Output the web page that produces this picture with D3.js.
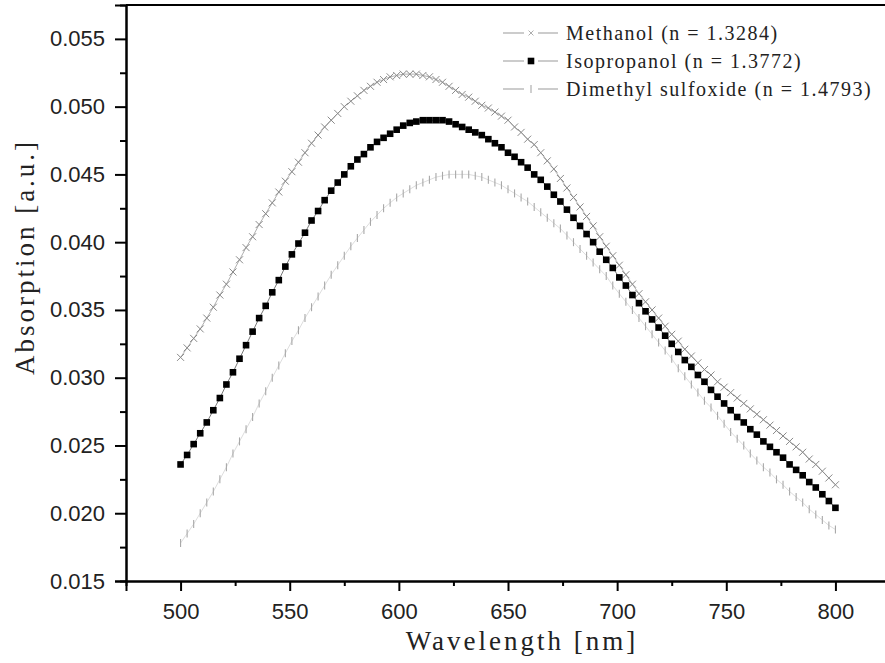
<!DOCTYPE html>
<html>
<head>
<meta charset="utf-8">
<script src="https://cdn.jsdelivr.net/npm/d3@7"></script>
<style>
    body { margin: 0; background: #fff; }
</style>
</head>
<body>
<div id="plot"></div>
<script>
// wavelength grid, one point every 3 nm
const wavelengths = d3.range(500, 801, 3);

const methanol = [
    0.0315, 0.0322, 0.0329, 0.0336, 0.0344, 0.0352, 0.0361, 0.0369, 0.0378, 0.0387,
    0.0396, 0.0404, 0.0413, 0.0421, 0.0429, 0.0437, 0.0445, 0.0452, 0.0459, 0.0466,
    0.0473, 0.0479, 0.0485, 0.0490, 0.0495, 0.0500, 0.0504, 0.0508, 0.0512, 0.0515,
    0.0518, 0.0520, 0.0522, 0.0523, 0.0524, 0.0524, 0.0524, 0.0523, 0.0522, 0.0520,
    0.0518, 0.0515, 0.0512, 0.0509, 0.0507, 0.0504, 0.0501, 0.0499, 0.0496, 0.0493,
    0.0490, 0.0485, 0.0481, 0.0476, 0.0472, 0.0466, 0.0460, 0.0454, 0.0447, 0.0440,
    0.0433, 0.0426, 0.0419, 0.0412, 0.0404, 0.0397, 0.0390, 0.0383, 0.0376, 0.0369,
    0.0362, 0.0356, 0.0350, 0.0344, 0.0338, 0.0332, 0.0327, 0.0321, 0.0316, 0.0311,
    0.0306, 0.0302, 0.0297, 0.0293, 0.0289, 0.0285, 0.0281, 0.0277, 0.0273, 0.0269,
    0.0265, 0.0261, 0.0257, 0.0253, 0.0249, 0.0245, 0.0240, 0.0236, 0.0231, 0.0226,
    0.0221
];

const isopropanol = [
    0.0236, 0.0243, 0.0251, 0.0259, 0.0267, 0.0276, 0.0285, 0.0295, 0.0304, 0.0314,
    0.0324, 0.0334, 0.0344, 0.0353, 0.0363, 0.0372, 0.0382, 0.0391, 0.0399, 0.0407,
    0.0416, 0.0423, 0.0431, 0.0438, 0.0444, 0.0450, 0.0456, 0.0461, 0.0465, 0.0470,
    0.0474, 0.0477, 0.0480, 0.0483, 0.0486, 0.0488, 0.0489, 0.0490, 0.0490, 0.0490,
    0.0490, 0.0489, 0.0487, 0.0485, 0.0483, 0.0481, 0.0479, 0.0476, 0.0473, 0.0470,
    0.0466, 0.0463, 0.0459, 0.0455, 0.0450, 0.0446, 0.0441, 0.0435, 0.0430, 0.0424,
    0.0418, 0.0412, 0.0406, 0.0400, 0.0393, 0.0387, 0.0381, 0.0374, 0.0368, 0.0361,
    0.0355, 0.0349, 0.0343, 0.0337, 0.0331, 0.0325, 0.0319, 0.0313, 0.0308, 0.0302,
    0.0297, 0.0291, 0.0286, 0.0281, 0.0276, 0.0271, 0.0267, 0.0262, 0.0258, 0.0253,
    0.0249, 0.0245, 0.0241, 0.0236, 0.0232, 0.0228, 0.0223, 0.0219, 0.0214, 0.0209,
    0.0204
];

const dmso = [
    0.0178, 0.0185, 0.0192, 0.0200, 0.0208, 0.0216, 0.0225, 0.0234, 0.0244, 0.0253,
    0.0262, 0.0271, 0.0281, 0.0290, 0.0300, 0.0309, 0.0318, 0.0327, 0.0335, 0.0344,
    0.0352, 0.0360, 0.0368, 0.0376, 0.0383, 0.0390, 0.0397, 0.0403, 0.0409, 0.0415,
    0.0420, 0.0425, 0.0429, 0.0433, 0.0436, 0.0439, 0.0442, 0.0444, 0.0446, 0.0448,
    0.0449, 0.0450, 0.0450, 0.0450, 0.0450, 0.0449, 0.0448, 0.0446, 0.0444, 0.0442,
    0.0439, 0.0436, 0.0433, 0.0430, 0.0426, 0.0422, 0.0418, 0.0414, 0.0410, 0.0405,
    0.0400, 0.0395, 0.0390, 0.0385, 0.0380, 0.0375, 0.0368, 0.0362, 0.0356, 0.0350,
    0.0344, 0.0338, 0.0332, 0.0326, 0.0320, 0.0314, 0.0307, 0.0301, 0.0295, 0.0289,
    0.0283, 0.0278, 0.0272, 0.0266, 0.0260, 0.0255, 0.0250, 0.0244, 0.0239, 0.0234,
    0.0230, 0.0225, 0.0221, 0.0216, 0.0212, 0.0208, 0.0203, 0.0199, 0.0195, 0.0191,
    0.0188
];

const seriesNames = [
    "Methanol (n = 1.3284)",
    "Isopropanol (n = 1.3772)",
    "Dimethyl sulfoxide (n = 1.4793)"
];

const xMajor = [500, 550, 600, 650, 700, 750, 800];
const xMinor = [525, 575, 625, 675, 725, 775, 825];
const yMajor = [0.015, 0.020, 0.025, 0.030, 0.035, 0.040, 0.045, 0.050, 0.055];
const yMinor = [0.0175, 0.0225, 0.0275, 0.0325, 0.0375, 0.0425, 0.0475, 0.0525];

const width = 885;
const height = 663;
const margin = { left: 126, right: 890, top: 5, bottom: 581 };

const svg = d3.select("#plot")
    .append("svg")
    .attr("width", width)
    .attr("height", height);

const x = d3.scaleLinear().domain([475, 825]).range([margin.left, margin.right]);
const y = d3.scaleLinear().domain([0.015, 0.0575]).range([margin.bottom, margin.top]);

const series = [methanol, isopropanol, dmso].map(vals =>
    wavelengths.map((w, i) => ({ w: w, v: vals[i] })));

const line = d3.line().x(d => x(d.w)).y(d => y(d.v));

// connecting lines
svg.append("path")
    .datum(series[2])
    .attr("d", line)
    .attr("fill", "none")
    .attr("stroke", "#d4d4d4")
    .attr("stroke-width", 0.8);

svg.append("path")
    .datum(series[0])
    .attr("d", line)
    .attr("fill", "none")
    .attr("stroke", "#9a9a9a")
    .attr("stroke-width", 0.8);

svg.append("path")
    .datum(series[1])
    .attr("d", line)
    .attr("fill", "none")
    .attr("stroke", "#555")
    .attr("stroke-width", 0.8);

// DMSO: short vertical ticks
svg.append("g")
    .selectAll("line")
    .data(series[2])
    .enter()
    .append("line")
    .attr("x1", d => x(d.w))
    .attr("x2", d => x(d.w))
    .attr("y1", d => y(d.v) - 4)
    .attr("y2", d => y(d.v) + 4)
    .attr("stroke", "#a8a8a8")
    .attr("stroke-width", 1.1);

// methanol: crosses
const crossPath = "M-3.5,-3.5L3.5,3.5M-3.5,3.5L3.5,-3.5";
svg.append("g")
    .selectAll("path")
    .data(series[0])
    .enter()
    .append("path")
    .attr("d", crossPath)
    .attr("transform", d => `translate(${x(d.w)},${y(d.v)})`)
    .attr("fill", "none")
    .attr("stroke", "#8a8a8a")
    .attr("stroke-width", 1);

// isopropanol: black squares
svg.append("g")
    .selectAll("rect")
    .data(series[1])
    .enter()
    .append("rect")
    .attr("x", d => x(d.w) - 3.3)
    .attr("y", d => y(d.v) - 3.3)
    .attr("width", 6.6)
    .attr("height", 6.6)
    .attr("fill", "#000");

// frame + axes
svg.append("line")
    .attr("x1", margin.left).attr("x2", margin.right)
    .attr("y1", margin.top).attr("y2", margin.top)
    .attr("stroke", "#000").attr("stroke-width", 2);

const xAxis = svg.append("g").attr("transform", `translate(0,${margin.bottom})`);
xAxis.call(d3.axisBottom(x).tickValues(xMajor).tickSize(10).tickPadding(12).tickFormat(d3.format("d")));
xAxis.append("g").call(d3.axisBottom(x).tickValues(xMinor).tickSize(5).tickFormat(""));

const yAxis = svg.append("g").attr("transform", `translate(${margin.left},0)`);
yAxis.call(d3.axisLeft(y).tickValues(yMajor).tickSize(11).tickPadding(10).tickFormat(d3.format(".3f")));
yAxis.append("g").call(d3.axisLeft(y).tickValues(yMinor).tickSize(6).tickFormat(""));

svg.selectAll(".domain").attr("stroke", "#000").attr("stroke-width", 2);
svg.selectAll(".tick line").attr("stroke", "#000").attr("stroke-width", 2);
svg.selectAll(".tick text")
    .style("font-family", "'Liberation Sans', Arial, sans-serif")
    .style("font-size", "22px")
    .attr("fill", "#222");
// minor axes: hide their duplicate domain lines
xAxis.select("g").select(".domain").remove();
yAxis.select("g").select(".domain").remove();

// axis titles
svg.append("text")
    .attr("x", 522)
    .attr("y", 650)
    .attr("text-anchor", "middle")
    .style("font-family", "'Liberation Serif', 'Times New Roman', serif")
    .style("font-size", "27px")
    .style("letter-spacing", "3px")
    .attr("fill", "#222")
    .text("Wavelength [nm]");

svg.append("text")
    .attr("transform", "translate(34,257) rotate(-90)")
    .attr("text-anchor", "middle")
    .style("font-family", "'Liberation Serif', 'Times New Roman', serif")
    .style("font-size", "27px")
    .style("letter-spacing", "3px")
    .attr("fill", "#222")
    .text("Absorption [a.u.]");

// legend
const legend = svg.append("g");
const legendRows = [33, 61, 89];

legendRows.forEach((ry, i) => {
    legend.append("line")
        .attr("x1", 503).attr("x2", 524)
        .attr("y1", ry).attr("y2", ry)
        .attr("stroke", "#aaa").attr("stroke-width", 1.2);
    legend.append("line")
        .attr("x1", 538).attr("x2", 558)
        .attr("y1", ry).attr("y2", ry)
        .attr("stroke", "#aaa").attr("stroke-width", 1.2);
    legend.append("text")
        .attr("x", 566)
        .attr("y", ry + 7)
        .style("font-family", "'Liberation Serif', 'Times New Roman', serif")
        .style("font-size", "20px")
        .style("letter-spacing", "1.5px")
        .attr("fill", "#222")
        .text(seriesNames[i]);
});

legend.append("path")
    .attr("d", crossPath)
    .attr("transform", `translate(531,${legendRows[0]}) scale(0.7)`)
    .attr("fill", "none")
    .attr("stroke", "#8a8a8a");
legend.append("rect")
    .attr("x", 531 - 3.3).attr("y", legendRows[1] - 3.3)
    .attr("width", 6.6).attr("height", 6.6)
    .attr("fill", "#000");
legend.append("line")
    .attr("x1", 531).attr("x2", 531)
    .attr("y1", legendRows[2] - 4).attr("y2", legendRows[2] + 4)
    .attr("stroke", "#a8a8a8").attr("stroke-width", 1.1);
</script>
</body>
</html>
